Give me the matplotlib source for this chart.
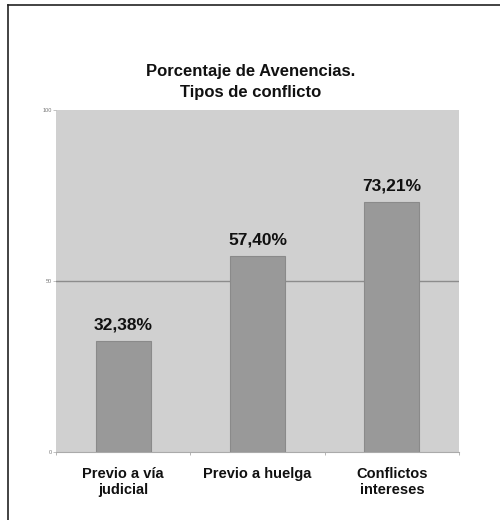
import matplotlib.pyplot as plt
from matplotlib.lines import Line2D

categorias = ["Previo a vía\njudicial", "Previo a huelga", "Conflictos\nintereses"]
valores = [32.38, 57.40, 73.21]
etiquetas = ["32,38%", "57,40%", "73,21%"]
yticks = [0, 50, 100]

plt.rcParams['font.family'] = ['Liberation Sans', 'DejaVu Sans']

fig = plt.figure(figsize=(5, 5.2), dpi=100)
ax = fig.add_axes([0.112, 0.1308, 0.806, 0.6577])
ax.set_facecolor("#d0d0d0")

x = range(len(valores))
ax.bar(x, valores, width=0.41, color="#999999", edgecolor="#8a8a8a", linewidth=0.8, zorder=3)
ax.axhline(50, color="#8c8c8c", linewidth=1.0, zorder=2)

for xi, v, lab in zip(x, valores, etiquetas):
    ax.annotate(lab, (xi, v), xytext=(0, 6), textcoords="offset points",
                ha="center", va="bottom", fontsize=12.5, fontweight="bold", color="#111111")

ax.set_xlim(-0.5, 2.5)
ax.set_ylim(0, 100)
ax.set_yticks(yticks)
ax.set_yticklabels([str(t) for t in yticks], fontsize=4, color="#777777")
ax.tick_params(axis="y", length=2, width=0.5, color="#aaaaaa", pad=1)
ax.set_xticks([-0.5, 0.5, 1.5, 2.5], minor=False)
ax.set_xticklabels([])
ax.tick_params(axis="x", which="major", length=2, width=0.6, color="#aaaaaa")
ax.set_xticks(list(x), minor=True)
ax.set_xticklabels(categorias, minor=True, fontsize=10.5, fontweight="bold", color="#111111",
                   linespacing=1.2)
ax.tick_params(axis="x", which="minor", length=0, pad=11)
for s in ax.spines.values():
    s.set_visible(False)
ax.spines["bottom"].set_visible(True)
ax.spines["bottom"].set_color("#aaaaaa")
ax.spines["bottom"].set_linewidth(0.8)

fig.text(0.502, 0.843, "Porcentaje de Avenencias.\nTipos de conflicto", ha="center", va="center",
         fontsize=12, fontweight="bold", color="#111111", linespacing=1.5)

# marco exterior (izquierda y arriba)
fig.add_artist(Line2D([0.016, 0.016], [0, 0.99], transform=fig.transFigure, color="#222222", linewidth=1.2))
fig.add_artist(Line2D([0.016, 1.0], [0.99, 0.99], transform=fig.transFigure, color="#222222", linewidth=1.2))

fig.savefig("out.png", dpi=100)
